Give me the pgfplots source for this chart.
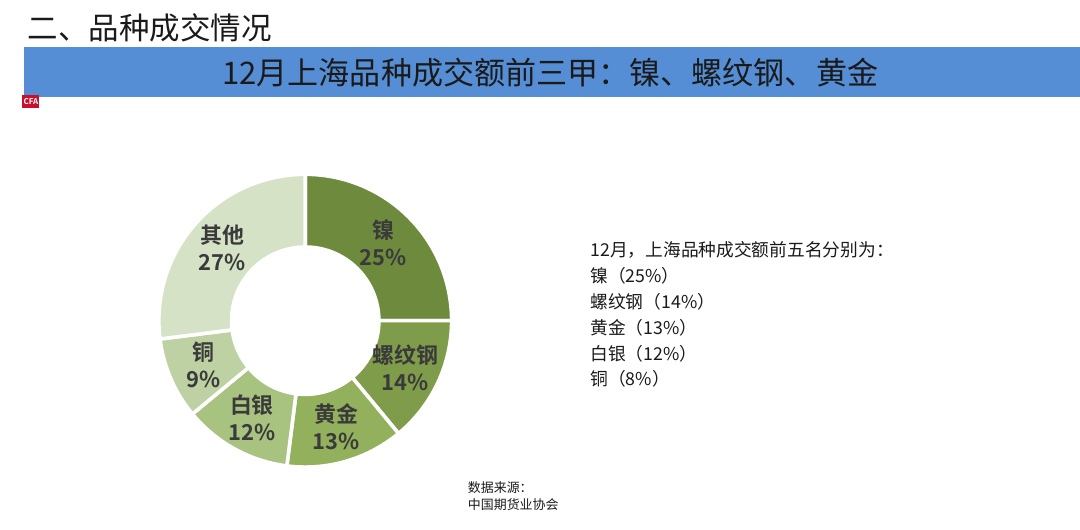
\documentclass[border=0pt]{standalone}
\usepackage{pgfplots}
\pgfplotsset{compat=1.18}
\usepackage{pgfplotstable}
\usepackage{fontspec}
\setmainfont{Noto Sans CJK SC}[BoldFont={Noto Sans CJK SC Bold}]
\definecolor{band}{HTML}{558ED5}
\definecolor{c0}{HTML}{6E8B3D}
\definecolor{c1}{HTML}{7F9C4A}
\definecolor{c2}{HTML}{93B15C}
\definecolor{c3}{HTML}{A8C27F}
\definecolor{c4}{HTML}{BED1A2}
\definecolor{c5}{HTML}{D6E2C6}
\definecolor{lbl}{HTML}{3A3A3A}
\definecolor{txt}{HTML}{1A1A1A}
\definecolor{logo}{HTML}{C8102E}

\pgfplotstableread{
name pct
镍 25
螺纹钢 14
黄金 13
白银 12
铜 9
其他 27
}\sharetable

\begin{document}
\def\cumsum{0}
\pgfplotsforeachungrouped \i in {0,...,5}{%
  \pgfplotstablegetelem{\i}{pct}\of\sharetable
  \let\curpct\pgfplotsretval
  \pgfmathsetmacro\sa{90-3.6*\cumsum}%
  \pgfmathsetmacro\cumsum{\cumsum+\curpct}%
  \pgfmathsetmacro\ea{90-3.6*\cumsum}%
  \pgfmathsetmacro\ma{(\sa+\ea)/2}%
  \expandafter\xdef\csname sa\i\endcsname{\sa}%
  \expandafter\xdef\csname ea\i\endcsname{\ea}%
  \expandafter\xdef\csname ma\i\endcsname{\ma}%
  \expandafter\xdef\csname pc\i\endcsname{\curpct}%
  \pgfplotstablegetelem{\i}{name}\of\sharetable
  \expandafter\xdef\csname nm\i\endcsname{\pgfplotsretval}%
}%
\begin{tikzpicture}[x=0.5pt,y=0.5pt]
\path[use as bounding box] (0,0) rectangle (1080,532);
\fill[white] (0,0) rectangle (1080,532);
% heading
\node[anchor=base west, inner sep=0pt, font=\fontsize{15.3}{18}\selectfont, text=txt] at (23,492) {二、品种成交情况};
% band
\fill[band] (20,435) rectangle (1080,485);
\node[anchor=center, inner sep=0pt, font=\fontsize{15.6}{18}\selectfont, text=txt] at (548,459) {12月上海品种成交额前三甲：镍、螺纹钢、黄金};
% logo
\fill[logo] (18,424) rectangle (35,437);
\node[inner sep=0pt, font=\bfseries\fontsize{4}{4}\selectfont, text=white] at (26.5,430.5) {CFA};
% right text
\node[anchor=north west, align=left, inner sep=0pt, font=\fontsize{8.9}{13}\selectfont, text=txt] at (588,290)
{12月，上海品种成交额前五名分别为：\\镍（25\%）\\螺纹钢（14\%）\\黄金（13\%）\\白银（12\%）\\铜（8\%）};
% source
\node[anchor=north west, align=left, inner sep=0pt, font=\fontsize{6.5}{8.5}\selectfont, text=txt] at (465,49)
{数据来源：\\中国期货业协会};
\begin{axis}[at={(302,210)}, anchor=center, scale only axis, width=150pt, height=150pt,
  xmin=-150, xmax=150, ymin=-150, ymax=150, hide axis, clip=false]
\pgfplotsinvokeforeach{0,...,5}{%
  \edef\slicecmd{%
    \noexpand\filldraw[fill=c#1, draw=white, line width=1.8pt]
    (axis cs:0,0) ++(\csname sa#1\endcsname:73.5pt)
    arc[start angle=\csname sa#1\endcsname, end angle=\csname ea#1\endcsname, radius=73.5pt]
    -- ([shift={(axis cs:0,0)}]\csname ea#1\endcsname:37pt)
    arc[start angle=\csname ea#1\endcsname, end angle=\csname sa#1\endcsname, radius=37pt]
    -- cycle;
    \noexpand\node[font=\noexpand\bfseries\noexpand\fontsize{11}{13.5}\noexpand\selectfont, align=center, text=lbl]
      at ([shift={(axis cs:0,0)}]\csname ma#1\endcsname:55.5pt) {\csname nm#1\endcsname\noexpand\\\csname pc#1\endcsname\noexpand\%};
  }\slicecmd
}
\end{axis}
\end{tikzpicture}
\end{document}
